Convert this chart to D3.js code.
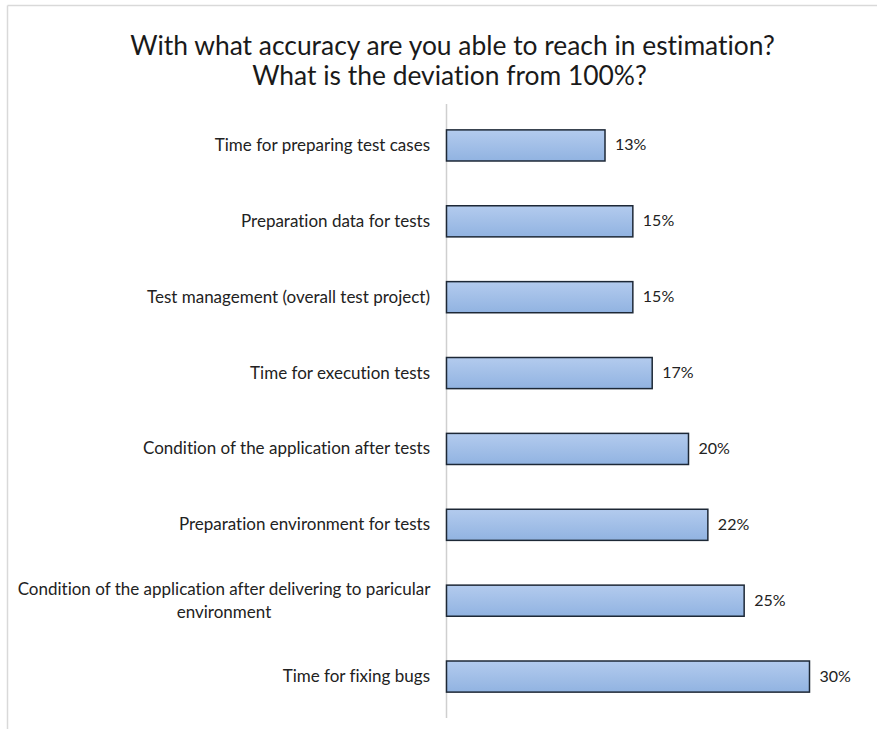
<!DOCTYPE html>
<html>
<head>
<meta charset="utf-8">
<script src="https://cdn.jsdelivr.net/npm/d3@7"></script>
<style>
  html, body { margin: 0; padding: 0; background: #fff; }
  svg { display: block; }
  text { font-variant-ligatures: none; }
</style>
</head>
<body>
<svg id="chart" width="877" height="729"></svg>
<script>
const titleLines = ["With what accuracy are you able to reach in estimation?", "What is the deviation from 100%?"];
const categories = [
  "Time for preparing test cases",
  "Preparation data for tests",
  "Test management (overall test project)",
  "Time for execution tests",
  "Condition of the application after tests",
  "Preparation environment for tests",
  "Condition of the application after delivering to paricular environment",
  "Time for fixing bugs"
];
const values = [13.1, 15.4, 15.4, 17.0, 20.0, 21.6, 24.6, 30.0];
const valueLabels = ["13%", "15%", "15%", "17%", "20%", "22%", "25%", "30%"];

const svg = d3.select("#chart");
const font = "Lato, 'Open Sans', sans-serif";

// frame lines
svg.append("line").attr("x1", 7.5).attr("x2", 877).attr("y1", 5.5).attr("y2", 5.5)
  .attr("stroke", "#d9d9d9").attr("stroke-width", 1.5);
svg.append("line").attr("x1", 7.5).attr("x2", 7.5).attr("y1", 5.5).attr("y2", 729)
  .attr("stroke", "#d9d9d9").attr("stroke-width", 1.5);

// title
svg.append("g").selectAll("text").data(titleLines).join("text")
  .attr("x", (d, i) => i === 0 ? 452.5 : 449.5).attr("y", (d, i) => 54.5 + i * 30.5)
  .attr("text-anchor", "middle")
  .attr("font-family", font).attr("font-size", 26.4).attr("fill", "#1a1a1a")
  .text(d => d);

const x = d3.scaleLinear().domain([0, 30]).range([446.5, 809.5]);
const y = d3.scaleBand().domain(categories).range([107.5, 714.5]).paddingInner(0.59).paddingOuter(0.295);

const defs = svg.append("defs");
const grad = defs.append("linearGradient").attr("id", "barGrad").attr("x1", 0).attr("x2", 0).attr("y1", 0).attr("y2", 1);
grad.append("stop").attr("offset", "0%").attr("stop-color", "#b3cbee");
grad.append("stop").attr("offset", "100%").attr("stop-color", "#91b3e1");

// axis line
svg.append("line").attr("x1", 446.5).attr("x2", 446.5).attr("y1", 104).attr("y2", 718)
  .attr("stroke", "#cfcfcf").attr("stroke-width", 1.5);

// bars
svg.append("g").selectAll("rect").data(values).join("rect")
  .attr("x", x(0))
  .attr("y", (d, i) => y(categories[i]))
  .attr("width", d => x(d) - x(0))
  .attr("height", y.bandwidth())
  .attr("fill", "url(#barGrad)")
  .attr("stroke", "#1d2836").attr("stroke-width", 1.5);

// value labels
svg.append("g").selectAll("text").data(values).join("text")
  .attr("x", d => x(d) + 10)
  .attr("y", (d, i) => y(categories[i]) + y.bandwidth() / 2 + 5)
  .attr("font-family", font).attr("font-size", 16).attr("fill", "#222")
  .text((d, i) => valueLabels[i]);

// category labels (wrap long)
function wrapLines(s) {
  if (s.length > 45) {
    const words = s.split(" ");
    const last = words.pop();
    return [words.join(" "), last];
  }
  return [s];
}
const catG = svg.append("g");
categories.forEach((c, i) => {
  const lines = wrapLines(c);
  const cy = y(c) + y.bandwidth() / 2;
  const t = catG.append("text")
    .attr("font-family", font).attr("font-size", 17).attr("fill", "#222");
  if (lines.length === 1) {
    t.attr("x", 430).attr("y", cy + 5.5).attr("text-anchor", "end").text(lines[0]);
  } else {
    t.attr("text-anchor", "middle");
    lines.forEach((l, j) => {
      t.append("tspan").attr("x", 224).attr("y", cy - 5.5 + j * 23).text(l);
    });
  }
});
</script>
</body>
</html>
